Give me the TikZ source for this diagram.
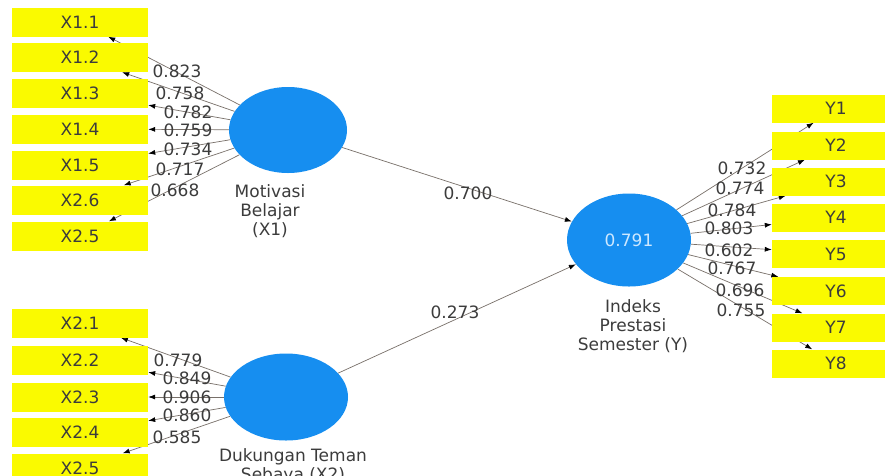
\documentclass[tikz,border=0pt]{standalone}
\usepackage{fontspec}
\setmainfont{DejaVu Sans}
\usetikzlibrary{shapes.geometric,arrows.meta}
\pgfdeclarelayer{back}
\pgfdeclarelayer{bg}
\pgfsetlayers{back,bg,main}
\definecolor{indyellow}{RGB}{250,250,0}
\definecolor{latblue}{RGB}{22,142,240}
\definecolor{txt}{RGB}{60,60,60}
\definecolor{lin}{RGB}{120,112,105}
\definecolor{rtxt}{RGB}{205,232,255}
\begin{document}
\begin{tikzpicture}[x=1pt,y=-1pt,
  ind/.style={rectangle, fill=indyellow, minimum width=136pt, minimum height=29pt, inner sep=0pt, font=\fontsize{17}{19}\selectfont, text=txt},
  indy/.style={ind, minimum width=128pt, minimum height=28pt},
  lat/.style={ellipse, fill=latblue, inner sep=0pt},
  latlab/.style={align=center, font=\fontsize{17}{19}\selectfont, text=txt},
  lab/.style={font=\fontsize{17}{19}\selectfont, text=txt, inner sep=0pt},
  conn/.style={draw=lin, line width=0.7pt, -{Latex[length=7pt,width=5pt,color=black]}}
]
\clip (0,0) rectangle (885,475);
\begin{pgfonlayer}{back}
\fill[white] (0,0) rectangle (885,475);
\end{pgfonlayer}

% latent variables
\node[lat, minimum width=118pt, minimum height=86pt] (mot) at (288,130) {};
\node[lat, minimum width=124pt, minimum height=87pt] (duk) at (286,397) {};
\node[lat, minimum width=124pt, minimum height=93pt, text=rtxt, font=\fontsize{17}{19}\selectfont] (ips) at (629,240) {0.791};

\node[latlab] (motl) at (270,211) {Motivasi\\Belajar\\(X1)};
\node[latlab] (dukl) at (293,466) {Dukungan Teman\\Sebaya (X2)};
\node[latlab] (ipsl) at (633,326) {Indeks\\Prestasi\\Semester (Y)};

% indicators X1
\node[ind] (x11) at (80,22) {X1.1};
\node[ind] (x12) at (80,57.5) {X1.2};
\node[ind] (x13) at (80,93) {X1.3};
\node[ind] (x14) at (80,129) {X1.4};
\node[ind] (x15) at (80,165) {X1.5};
\node[ind] (x26) at (80,200) {X2.6};
\node[ind] (x25a) at (80,236) {X2.5};

% indicators X2
\node[ind] (x21) at (80,323) {X2.1};
\node[ind] (x22) at (80,360) {X2.2};
\node[ind] (x23) at (80,397) {X2.3};
\node[ind] (x24) at (80,432.5) {X2.4};
\node[ind] (x25b) at (80,468) {X2.5};

% indicators Y
\node[indy] (y1) at (836,108.5) {Y1};
\node[indy] (y2) at (836,145.5) {Y2};
\node[indy] (y3) at (836,181.5) {Y3};
\node[indy] (y4) at (836,217.5) {Y4};
\node[indy] (y5) at (836,254) {Y5};
\node[indy] (y6) at (836,291) {Y6};
\node[indy] (y7) at (836,327.5) {Y7};
\node[indy] (y8) at (836,363.5) {Y8};

\begin{pgfonlayer}{bg}
  \foreach \t in {x11,x12,x13,x14,x15,x26,x25a} \draw[conn] (mot) -- (\t);
  \foreach \t in {x21,x22,x23,x24,x25b} \draw[conn] (duk) -- (\t);
  \foreach \t in {y1,y2,y3,y4,y5,y6,y7,y8} \draw[conn] (ips) -- (\t);
  \draw[conn] (mot) -- (ips);
  \draw[conn] (duk) -- (ips);
\end{pgfonlayer}

% loadings X1
\node[lab] (l11) at (177,71) {0.823};
\node[lab] (l12) at (180,93) {0.758};
\node[lab] (l13) at (188,112) {0.782};
\node[lab] (l14) at (188,130) {0.759};
\node[lab] (l15) at (188,149) {0.734};
\node[lab] (l16) at (180,169) {0.717};
\node[lab] (l17) at (175,190) {0.668};

% loadings X2
\node[lab] (l21) at (178,360) {0.779};
\node[lab] (l22) at (187,378) {0.849};
\node[lab] (l23) at (187,397) {0.906};
\node[lab] (l24) at (187,415) {0.860};
\node[lab] (l25) at (177,437) {0.585};

% loadings Y
\node[lab] (ly1) at (742,168) {0.732};
\node[lab] (ly2) at (740,188) {0.774};
\node[lab] (ly3) at (732,210) {0.784};
\node[lab] (ly4) at (729,228) {0.803};
\node[lab] (ly5) at (729,250) {0.602};
\node[lab] (ly6) at (732,268) {0.767};
\node[lab] (ly7) at (740,290) {0.696};
\node[lab] (ly8) at (741,310) {0.755};

% path coefficients
\node[lab] (p1) at (468,193) {0.700};
\node[lab] (p2) at (455,312) {0.273};
\end{tikzpicture}
\end{document}
